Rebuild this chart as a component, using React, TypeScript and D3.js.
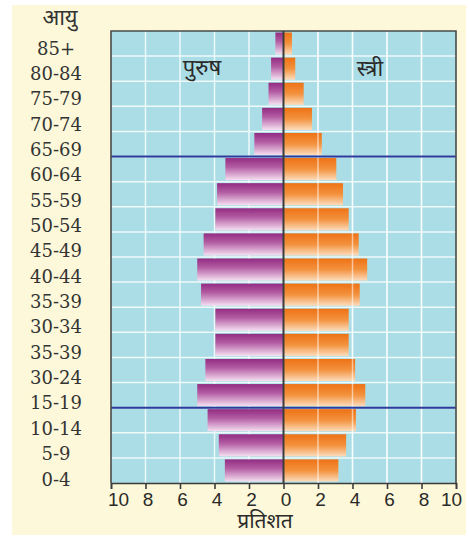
import { useRef, useEffect } from "react";
import * as d3 from "d3";

const ageGroups = [
  "85+", "80-84", "75-79", "70-74", "65-69", "60-64", "55-59", "50-54", "45-49",
  "40-44", "35-39", "30-34", "35-39", "30-24", "15-19", "10-14", "5-9", "0-4",
];
const male = [0.47, 0.72, 0.87, 1.24, 1.69, 3.37, 3.85, 3.95, 4.63, 5.0, 4.78, 3.95, 3.95, 4.53, 5.0, 4.4, 3.75, 3.4];
const female = [0.49, 0.68, 1.17, 1.65, 2.22, 3.06, 3.45, 3.78, 4.36, 4.85, 4.42, 3.78, 3.78, 4.15, 4.74, 4.2, 3.63, 3.18];
const tickValues = [-10, -8, -6, -4, -2, 0, 2, 4, 6, 8, 10];
const gridValues = [-8, -6, -4, -2, 2, 4, 6, 8];
const dividerAfter = [4, 14]; // blue lines below 65-69 and 15-19

const W = 469;
const H = 538;
const plot = { left: 111, right: 456, top: 31, bottom: 483 };

export default function App() {
  const svgRef = useRef<SVGSVGElement>(null);

  useEffect(() => {
    const svg = d3.select(svgRef.current);
    svg.selectAll("*").remove();

    const idx = d3.range(ageGroups.length);
    const x = d3.scaleLinear().domain([-10, 10]).range([plot.left, plot.right]);
    const y = d3
      .scaleBand<number>()
      .domain(idx)
      .range([plot.top, plot.bottom])
      .paddingInner(0.12)
      .paddingOuter(0.06);
    const labelY = d3.scalePoint<number>().domain(idx).range([48, 479]);

    const defs = svg.append("defs");
    const mg = defs.append("linearGradient").attr("id", "gm").attr("x1", 0).attr("y1", 0).attr("x2", 0).attr("y2", 1);
    mg.append("stop").attr("offset", "0%").attr("stop-color", "#932c82");
    mg.append("stop").attr("offset", "40%").attr("stop-color", "#b25ba2");
    mg.append("stop").attr("offset", "100%").attr("stop-color", "#f5e0f1");
    const fg = defs.append("linearGradient").attr("id", "gf").attr("x1", 0).attr("y1", 0).attr("x2", 0).attr("y2", 1);
    fg.append("stop").attr("offset", "0%").attr("stop-color", "#ee7215");
    fg.append("stop").attr("offset", "50%").attr("stop-color", "#f3923e");
    fg.append("stop").attr("offset", "100%").attr("stop-color", "#fcdcbc");

    // page background
    svg.append("rect").attr("x", 12).attr("y", 5).attr("width", 454).attr("height", 530).attr("fill", "#fcf8d9");

    // plot background
    svg
      .append("rect")
      .attr("x", plot.left)
      .attr("y", plot.top)
      .attr("width", plot.right - plot.left)
      .attr("height", plot.bottom - plot.top)
      .attr("fill", "#aadde5");

    // grid
    const step = y.step();
    const rowLines = d3.range(1, ageGroups.length).map((i) => y(i)! - (step - y.bandwidth()) / 2);
    svg
      .append("g")
      .selectAll("line")
      .data(rowLines)
      .join("line")
      .attr("x1", plot.left)
      .attr("x2", plot.right)
      .attr("y1", (d) => d)
      .attr("y2", (d) => d)
      .attr("stroke", "#eef9fa")
      .attr("stroke-width", 1.5);
    svg
      .append("g")
      .selectAll("line")
      .data(gridValues)
      .join("line")
      .attr("x1", (d) => x(d))
      .attr("x2", (d) => x(d))
      .attr("y1", plot.top)
      .attr("y2", plot.bottom)
      .attr("stroke", "#eef9fa")
      .attr("stroke-width", 1.5);

    // bars
    svg
      .append("g")
      .selectAll("rect")
      .data(idx)
      .join("rect")
      .attr("x", (i) => x(-male[i]))
      .attr("y", (i) => y(i)!)
      .attr("width", (i) => x(0) - x(-male[i]))
      .attr("height", y.bandwidth())
      .attr("fill", "url(#gm)");
    svg
      .append("g")
      .selectAll("rect")
      .data(idx)
      .join("rect")
      .attr("x", x(0))
      .attr("y", (i) => y(i)!)
      .attr("width", (i) => x(female[i]) - x(0))
      .attr("height", y.bandwidth())
      .attr("fill", "url(#gf)");

    // grid showing through the orange bars
    svg
      .append("g")
      .selectAll("line")
      .data(gridValues.filter((d) => d > 0))
      .join("line")
      .attr("x1", (d) => x(d))
      .attr("x2", (d) => x(d))
      .attr("y1", plot.top)
      .attr("y2", plot.bottom)
      .attr("stroke", "#ffffff")
      .attr("stroke-opacity", 0.55)
      .attr("stroke-width", 1.5);

    // blue dividers
    svg
      .append("g")
      .selectAll("line")
      .data(dividerAfter)
      .join("line")
      .attr("x1", plot.left)
      .attr("x2", plot.right)
      .attr("y1", (i) => y(i)! + y.bandwidth() + (step - y.bandwidth()) / 2)
      .attr("y2", (i) => y(i)! + y.bandwidth() + (step - y.bandwidth()) / 2)
      .attr("stroke", "#2f3b9c")
      .attr("stroke-width", 2);

    // frame
    svg
      .append("path")
      .attr("d", `M${plot.left},${plot.bottom}V${plot.top}H${plot.right}V${plot.bottom}`)
      .attr("fill", "none")
      .attr("stroke", "#4a4a4a")
      .attr("stroke-width", 1.6);

    // center line
    svg
      .append("line")
      .attr("x1", x(0))
      .attr("x2", x(0))
      .attr("y1", plot.top)
      .attr("y2", plot.bottom)
      .attr("stroke", "#3c3c3c")
      .attr("stroke-width", 2);

    // x axis
    const axis = svg
      .append("g")
      .attr("transform", `translate(0,${plot.bottom})`)
      .call(
        d3
          .axisBottom(x)
          .tickValues(tickValues)
          .tickSize(6)
          .tickPadding(4)
          .tickFormat((d) => String(Math.abs(d as number)))
      );
    axis.select(".domain").attr("stroke", "#3c3c3c").attr("stroke-width", 1.6);
    axis.selectAll(".tick line").attr("stroke", "#3c3c3c").attr("stroke-width", 1.6);
    axis
      .selectAll(".tick text")
      .attr("font-family", "'Liberation Sans', Arial, sans-serif")
      .attr("font-size", 19)
      .attr("fill", "#2a2a2a")
      .attr("dx", (d) => (d === -10 ? 7 : d === 10 ? -5 : 2));

    // age labels
    svg
      .append("g")
      .selectAll("text")
      .data(idx)
      .join("text")
      .attr("x", 56)
      .attr("y", (i) => labelY(i)!)
      .attr("text-anchor", "middle")
      .attr("dominant-baseline", "central")
      .attr("font-family", "'DejaVu Serif', serif")
      .attr("font-size", 18)
      .attr("fill", "#333")
      .text((i) => ageGroups[i]);

    const hindi = "'Noto Sans Devanagari', 'Lohit Devanagari', 'Noto Sans', sans-serif";
    svg.append("text").attr("x", 60).attr("y", 25).attr("text-anchor", "middle")
      .attr("font-family", hindi).attr("font-size", 22).attr("fill", "#333").text("आयु");
    svg.append("text").attr("x", 202).attr("y", 75).attr("text-anchor", "middle")
      .attr("font-family", hindi).attr("font-size", 22).attr("fill", "#2a2a2a").text("पुरुष");
    svg.append("text").attr("x", 370).attr("y", 76).attr("text-anchor", "middle")
      .attr("font-family", hindi).attr("font-size", 22).attr("fill", "#2a2a2a").text("स्त्री");
    svg.append("text").attr("x", 265).attr("y", 528).attr("text-anchor", "middle")
      .attr("font-family", hindi).attr("font-size", 21).attr("fill", "#2a2a2a").text("प्रतिशत");
  }, []);

  return (
    <div style={{ position: "absolute", left: 0, top: 0 }}>
      <svg ref={svgRef} width={W} height={H} style={{ display: "block", background: "#ffffff" }} />
    </div>
  );
}
